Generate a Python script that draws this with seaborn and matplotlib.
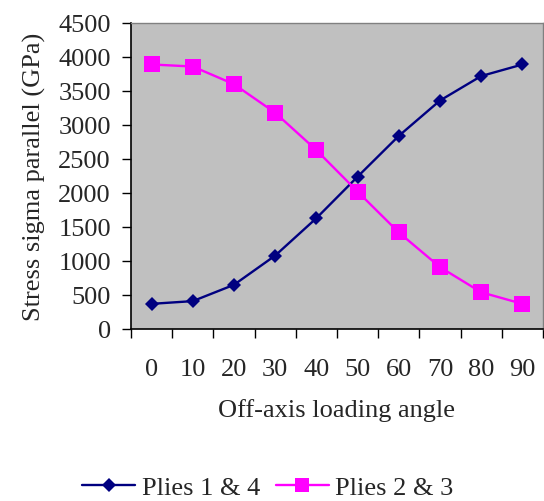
import numpy as np
import pandas as pd
import matplotlib
matplotlib.use("Agg")
import matplotlib.pyplot as plt
import seaborn as sns
from matplotlib.lines import Line2D

angles = [0, 10, 20, 30, 40, 50, 60, 70, 80, 90]
plies_14 = [370, 410, 650, 1080, 1630, 2240, 2840, 3360, 3720, 3890]
plies_23 = [3890, 3860, 3600, 3180, 2630, 2020, 1420, 910, 540, 370]
series_names = ["Plies 1 & 4", "Plies 2 & 3"]
y_ticks = [0, 500, 1000, 1500, 2000, 2500, 3000, 3500, 4000, 4500]

sns.set_theme(style="white")
plt.rcParams['font.family'] = ['Liberation Serif', 'DejaVu Serif']

pos = np.arange(len(angles))
df = pd.concat([
    pd.DataFrame({"pos": pos, "angle": angles, "value": plies_14, "series": series_names[0]}),
    pd.DataFrame({"pos": pos, "angle": angles, "value": plies_23, "series": series_names[1]}),
])

fig = plt.figure(figsize=(5.44, 5.02), dpi=100)
ax = fig.add_axes([131 / 544, 172 / 502, 412 / 544, 306 / 502])
ax.set_facecolor("#C0C0C0")

colors = {series_names[0]: "#000080", series_names[1]: "#FF00FF"}
markers = {series_names[0]: "D", series_names[1]: "s"}
msizes = {series_names[0]: 7.6, series_names[1]: 11.2}
sns.lineplot(data=df, x="pos", y="value", hue="series", style="series",
             markers=markers, dashes=False, palette=colors, ax=ax,
             linewidth=1.7, markeredgewidth=0, legend=False)
for line, name in zip(ax.get_lines(), series_names):
    line.set_markersize(msizes[name])

ax.set_xlim(-0.5, len(angles) - 0.5)
ax.set_ylim(0, 4500)
ax.set_yticks(y_ticks)
ax.set_yticklabels([str(v) for v in y_ticks])
ax.set_xticks(np.arange(len(angles) + 1) - 0.5)
ax.set_xticklabels([])
ax.set_xticks(pos, minor=True)
ax.set_xticklabels([str(a) for a in angles], minor=True)

fs = 19
ax.tick_params(axis="y", which="major", direction="out", length=6.5, width=1,
               color="black", labelsize=fs, pad=8, left=True)
ax.tick_params(axis="x", which="major", direction="out", length=6.5, width=1,
               color="black", bottom=True)
ax.tick_params(axis="x", which="minor", length=0, labelsize=fs, pad=21, bottom=True)

for s in ["left", "bottom"]:
    ax.spines[s].set_color("black")
    ax.spines[s].set_linewidth(1.2)
for s in ["top", "right"]:
    ax.spines[s].set_color("#808080")
    ax.spines[s].set_linewidth(1)

ax.set_xlabel("Off-axis loading angle", fontsize=fs, labelpad=13)
ax.set_ylabel("Stress sigma parallel (GPa)", fontsize=fs, labelpad=9)
ax.grid(False)

handles = [Line2D([], [], color=colors[n], marker=markers[n], markersize=msizes[n] * (1 if n == series_names[0] else 0.85),
                  linewidth=1.7, markeredgewidth=0) for n in series_names]
fig.legend(handles, series_names, loc="center", bbox_to_anchor=(268 / 544, 14 / 502),
           ncol=2, frameon=False, fontsize=fs, handlelength=2.0, handletextpad=0.25,
           columnspacing=0.6)

fig.savefig("out.png", dpi=100)
